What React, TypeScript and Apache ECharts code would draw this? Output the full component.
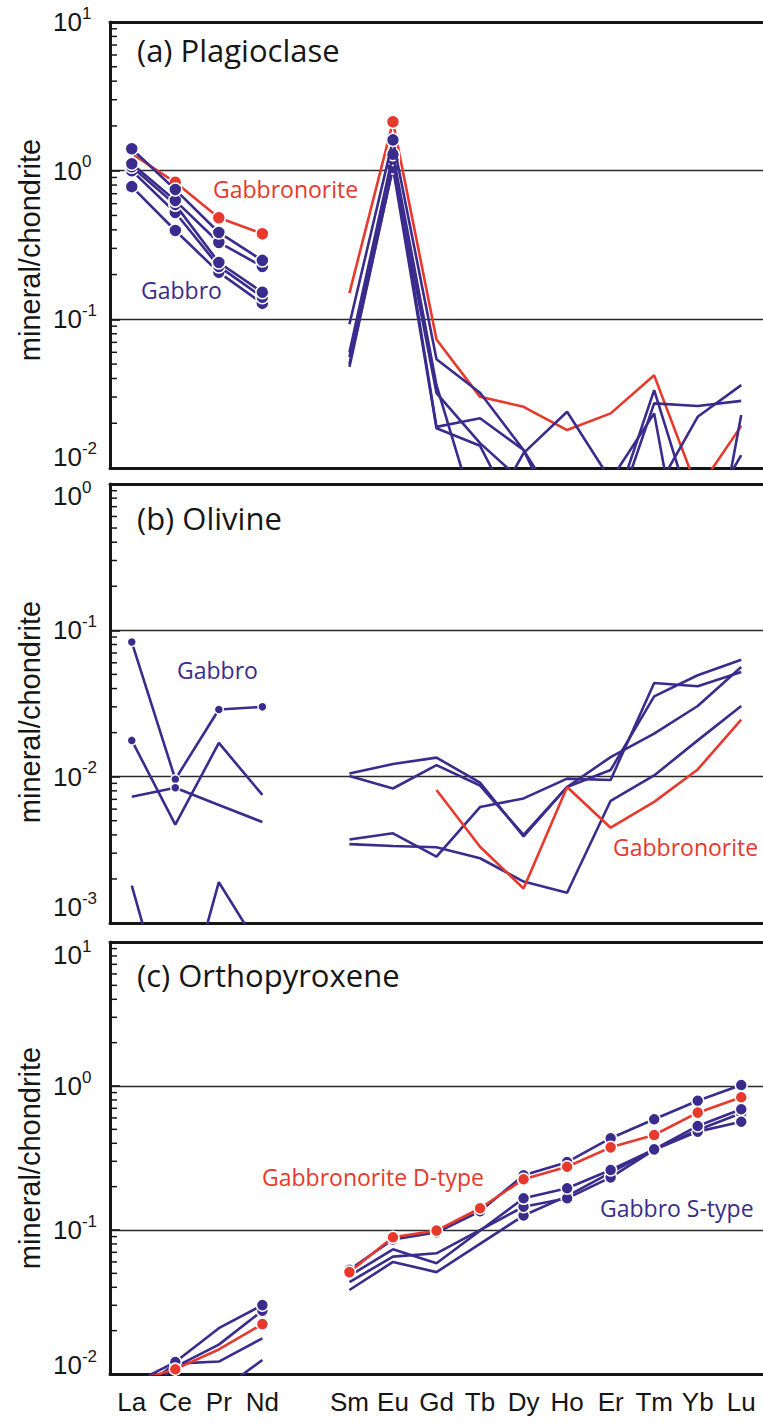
import { useEffect, useRef } from 'react';
import * as echarts from 'echarts';

// REE sequence (Pm is not measured, so every series has a gap there)
const elements = ['La', 'Ce', 'Pr', 'Nd', 'Pm', 'Sm', 'Eu', 'Gd', 'Tb', 'Dy', 'Ho', 'Er', 'Tm', 'Yb', 'Lu'];

// (a) Plagioclase
const plagGabbronorite = [1.3, 0.835, 0.482, 0.376, null, 0.15, 2.13, 0.0731, 0.0301, 0.0258, 0.018, 0.0233, 0.042, 0.0071, 0.0192];
const plagGabbro1 = [1.405, 0.746, 0.384, 0.249, null, 0.0926, 1.61, 0.0539, 0.0321, 0.0132, 0.0045, 0.0045, 0.0334, 0.0038, 0.0122];
const plagGabbro2 = [1.114, 0.629, 0.329, 0.227, null, 0.0598, 1.29, 0.0361, 0.0038, 0.0126, 0.0239, 0.0083, 0.0233, 0.0006, 0.0227];
const plagGabbro3 = [1.064, 0.591, 0.241, 0.152, null, 0.0558, 1.2, 0.0189, 0.0216, 0.0132, 0.0033, 0.0038, 0.0272, 0.0261, 0.0283];
const plagGabbro4 = [1.0, 0.523, 0.227, 0.141, null, 0.0479, 1.05, 0.0319, 0.0147, 0.008, 0.0024, 0.0024, 0.0067, 0.0221, 0.0361];
const plagGabbro5 = [0.781, 0.396, 0.207, 0.128, null, 0.05, 1.05, 0.0185, 0.0141, 0.0038, 0.002, 0.002, 0.002, 0.002, 0.002];

// (b) Olivine
const olGabbronorite = [null, null, null, null, null, null, null, 0.0081, 0.00332, 0.00172, 0.0085, 0.00448, 0.00673, 0.0112, 0.0245];
const olGabbro1 = [0.0832, 0.0096, 0.0288, 0.03, null, 0.0105, 0.0122, 0.0135, 0.0091, 0.0039, 0.0085, 0.0136, 0.0197, 0.0304, 0.0562];
const olGabbro2 = [0.0177, 0.0047, 0.017, 0.0075, null, 0.0101, 0.0083, 0.012, 0.0087, 0.004, 0.0085, 0.0111, 0.0354, 0.0493, 0.063];
const olGabbro3 = [0.0073, 0.0084, 0.0064, 0.0049, null, 0.00372, 0.0041, 0.00284, 0.0062, 0.0071, 0.0097, 0.0095, 0.0437, 0.0415, 0.0519];
const olGabbro4 = [0.0018, 0.00016, 0.0019, 0.00063, null, 0.00346, 0.00336, 0.00329, 0.00277, 0.00192, 0.00161, 0.00684, 0.0102, 0.0177, 0.0304];

// (c) Orthopyroxene
const opxGabbronorite = [0.0088, 0.0108, 0.0148, 0.0222, null, 0.051, 0.089, 0.099, 0.1416, 0.225, 0.275, 0.375, 0.457, 0.653, 0.835];
const opxGabbro1 = [0.0085, 0.0121, 0.0208, 0.0301, null, 0.053, 0.086, 0.096, 0.135, 0.24, 0.296, 0.434, 0.587, 0.79, 1.016];
const opxGabbro2 = [0.006, 0.0112, 0.016, 0.0275, null, 0.048, 0.0734, 0.0587, null, 0.166, 0.195, 0.261, 0.363, 0.528, 0.689];
const opxGabbro3 = [0.007, 0.0118, 0.0122, 0.0177, null, 0.0435, 0.0653, 0.0689, null, 0.145, 0.166, 0.232, 0.36, 0.482, 0.565];
const opxGabbro4 = [0.003, 0.005, 0.0075, 0.0125, null, 0.0383, 0.06, 0.051, null, 0.126, 0.172, 0.25, 0.363, 0.495, 0.646];

// which elements carry a dot marker
const plagMarks = ['La', 'Ce', 'Pr', 'Nd', 'Eu'];
const plagRedMarks = ['Ce', 'Pr', 'Nd', 'Eu'];
const hreeAll = ['Sm', 'Eu', 'Gd', 'Tb', 'Dy', 'Ho', 'Er', 'Tm', 'Yb', 'Lu'];
const hreeLate = ['Dy', 'Ho', 'Er', 'Tm', 'Yb', 'Lu'];

// y ranges (decades) of the three panels
const yRanges: [number, number][] = [
  [0.01, 10],
  [0.001, 1],
  [0.01, 10],
];

const BLUE = '#3a2c8c';
const RED = '#e8392d';
const INK = '#161616';

type Profile = { values: (number | null)[]; marks: string[]; color: string };

const panels: { profiles: Profile[]; symbolSize: number }[] = [
  {
    symbolSize: 13,
    profiles: [
      { values: plagGabbronorite, marks: plagRedMarks, color: RED },
      { values: plagGabbro5, marks: plagMarks, color: BLUE },
      { values: plagGabbro4, marks: plagMarks, color: BLUE },
      { values: plagGabbro3, marks: plagMarks, color: BLUE },
      { values: plagGabbro2, marks: plagMarks, color: BLUE },
      { values: plagGabbro1, marks: plagMarks, color: BLUE },
    ],
  },
  {
    symbolSize: 9,
    profiles: [
      { values: olGabbro1, marks: ['La', 'Ce', 'Pr', 'Nd'], color: BLUE },
      { values: olGabbro2, marks: ['La'], color: BLUE },
      { values: olGabbro3, marks: ['Ce'], color: BLUE },
      { values: olGabbro4, marks: [], color: BLUE },
      { values: olGabbronorite, marks: [], color: RED },
    ],
  },
  {
    symbolSize: 12,
    profiles: [
      { values: opxGabbro4, marks: hreeLate, color: BLUE },
      { values: opxGabbro3, marks: hreeLate, color: BLUE },
      { values: opxGabbro2, marks: ['Nd', ...hreeLate], color: BLUE },
      { values: opxGabbro1, marks: ['Ce', 'Nd', ...hreeAll], color: BLUE },
      { values: opxGabbronorite, marks: ['Ce', 'Nd', ...hreeAll], color: RED },
    ],
  },
];

const labels = [
  { text: '(a) Plagioclase', x: 137, y: 50, size: 31, color: INK },
  { text: 'Gabbronorite', x: 213, y: 189, size: 23, color: RED },
  { text: 'Gabbro', x: 141, y: 290, size: 23, color: BLUE },
  { text: '(b) Olivine', x: 137, y: 518, size: 31, color: INK },
  { text: 'Gabbro', x: 177, y: 670, size: 23, color: BLUE },
  { text: 'Gabbronorite', x: 613, y: 847, size: 23, color: RED },
  { text: '(c) Orthopyroxene', x: 137, y: 975, size: 31, color: INK },
  { text: 'Gabbronorite D-type', x: 262, y: 1177, size: 23, color: RED },
  { text: 'Gabbro S-type', x: 600, y: 1208, size: 23, color: BLUE },
];

// vertical centres of the rotated y titles
const yTitleCenters = [250, 712, 1158];

const grids = [
  { left: 110, top: 22, width: 656, height: 446 },
  { left: 110, top: 484, width: 656, height: 439 },
  { left: 110, top: 942, width: 656, height: 432 },
];

// how far the end labels of each y axis are pulled inside the panel
const labelShiftLow = [11, 16, 9];
const labelShiftHigh = [0, 12, 13];

function profileSeries(gi: number, p: Profile, symbolSize: number, z: number) {
  // LREE and HREE are drawn as separate pieces so the Pm gap stays open
  const parts: [number, number][] = [
    [0, 3],
    [5, 14],
  ];
  return parts.map(([a, b]) => ({
    type: 'line',
    xAxisIndex: gi * 2,
    yAxisIndex: gi,
    connectNulls: true,
    showSymbol: true,
    showAllSymbol: true,
    symbolSize,
    silent: true,
    clip: true,
    z,
    lineStyle: { color: p.color, width: 2.6 },
    itemStyle: { color: p.color, borderColor: '#ffffff', borderWidth: 1.5 },
    data: p.values.map((v, i) => {
      if (i < a || i > b || v == null) return '-';
      return { value: v, symbol: p.marks.includes(elements[i]) ? 'circle' : 'none' };
    }),
  }));
}

function minorTicks([lo, hi]: [number, number]) {
  const out: number[][] = [];
  for (let d = lo; d < hi * 0.999; d *= 10) {
    for (let m = 2; m <= 9; m++) out.push([0, m * d]);
  }
  return out;
}

// "10" with a raised exponent; the end labels are nudged inside the frame
function tickRich(gi: number) {
  const base = { fontFamily: 'Liberation Sans', fontSize: 26, color: INK, lineHeight: 34 };
  const sup = { fontFamily: 'Liberation Sans', fontSize: 17, color: INK, lineHeight: 34 };
  const lo = labelShiftLow[gi] * 2;
  const hi = labelShiftHigh[gi] * 2;
  return {
    bn: base,
    sn: { ...sup, padding: [0, 0, 18, 0] },
    blo: { ...base, padding: [0, 0, lo, 0] },
    slo: { ...sup, padding: [0, 0, lo + 18, 0] },
    bhi: { ...base, padding: [hi, 0, 0, 0] },
    shi: { ...sup, padding: [hi, 0, 18, 0] },
  };
}

export default function App() {
  const ref = useRef<HTMLDivElement>(null);

  useEffect(() => {
    if (!ref.current) return;
    const chart = echarts.init(ref.current, undefined, { renderer: 'svg' });

    const xAxis: any[] = [];
    grids.forEach((_, gi) => {
      ['bottom', 'top'].forEach((pos) => {
        xAxis.push({
          type: 'category',
          gridIndex: gi,
          position: pos,
          data: elements,
          boundaryGap: true,
          axisLine: { onZero: false, lineStyle: { color: INK, width: 3 } },
          axisTick: { inside: true, alignWithLabel: true, length: 8, lineStyle: { color: INK, width: 1.6 } },
          axisLabel: {
            show: gi === 2 && pos === 'bottom',
            interval: 0,
            margin: 15,
            color: INK,
            fontFamily: 'Liberation Sans',
            fontSize: 26,
            formatter: (v: string) => (v === 'Pm' ? '' : v),
          },
          splitLine: { show: false },
        });
      });
    });

    const yAxis = yRanges.map(([lo, hi], gi) => ({
      type: 'log',
      logBase: 10,
      gridIndex: gi,
      min: lo,
      max: hi,
      position: 'left',
      axisLine: { show: true, onZero: false, lineStyle: { color: INK, width: 3 } },
      axisTick: { show: true, inside: true, length: 10, lineStyle: { color: INK, width: 1.6 } },
      splitLine: { show: true, lineStyle: { color: '#2a2a2a', width: 1.4 } },
      axisLabel: {
        margin: 57,
        align: 'left',
        formatter: (v: number) => {
          const e = Math.round(Math.log10(v));
          const tag = Math.abs(v - lo) / lo < 1e-6 ? 'lo' : Math.abs(v - hi) / hi < 1e-6 ? 'hi' : 'n';
          return `{b${tag}|10}{s${tag}|${e}}`;
        },
        rich: tickRich(gi),
      },
    }));

    const series: any[] = [];
    panels.forEach((panel, gi) => {
      panel.profiles.forEach((p, k) => {
        series.push(...profileSeries(gi, p, panel.symbolSize, 3 + k));
      });
      series.push({
        type: 'custom',
        xAxisIndex: gi * 2,
        yAxisIndex: gi,
        silent: true,
        clip: false,
        z: 10,
        data: minorTicks(yRanges[gi]),
        renderItem: (params: any, api: any) => {
          const y = api.coord([0, api.value(1)])[1];
          const x0 = params.coordSys.x;
          return {
            type: 'line',
            shape: { x1: x0, y1: y, x2: x0 + 7, y2: y },
            style: { stroke: INK, lineWidth: 1.5 },
          };
        },
      });
    });

    const texts: any[] = labels.map((l) => ({
      type: 'text',
      x: l.x,
      y: l.y,
      silent: true,
      style: {
        text: l.text,
        fill: l.color,
        fontFamily: 'Open Sans',
        fontSize: l.size,
        verticalAlign: 'middle',
      },
    }));
    yTitleCenters.forEach((cy) => {
      texts.push({
        type: 'text',
        x: 30,
        y: cy,
        rotation: Math.PI / 2,
        silent: true,
        style: {
          text: 'mineral/chondrite',
          fill: INK,
          fontFamily: 'Liberation Sans',
          fontSize: 29,
          align: 'center',
          verticalAlign: 'middle',
        },
      });
    });

    chart.setOption({
      animation: false,
      backgroundColor: '#ffffff',
      grid: grids.map((g) => ({ ...g, containLabel: false })),
      xAxis,
      yAxis,
      series,
      graphic: texts,
    });

    return () => chart.dispose();
  }, []);

  return <div ref={ref} style={{ position: 'absolute', left: 0, top: 0, width: 763, height: 1423 }} />;
}
